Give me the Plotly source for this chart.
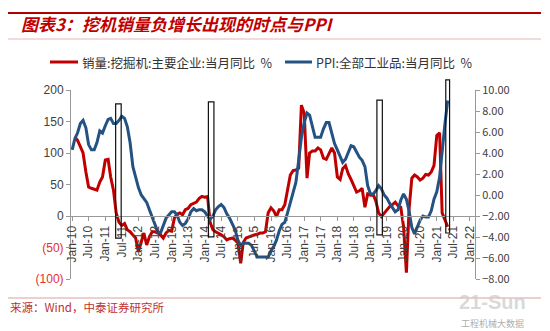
import plotly.graph_objects as go
import pandas as pd

# Monthly dates, Jan-2010 .. May-2021
months = pd.date_range("2010-01-01", "2021-05-01", freq="MS")

# Excavator sales, main enterprises, YoY % (starts Feb-2010)
sales_yoy = [None,
    125, 120, 110, 100, 70, 46, 44, 42, 41, 54, 62,
    89, 90, 62, 41, 5, -10, -15, -12, -22, -25, -30, -35,
    -57, -40, -27, -46, -33, -25, -25, -27, -30, -35, -27, -23,
    -24, -3, 3, 5, 2, 10, 12, 18, 20, 22, 28, 31,
    30, 31, -10, -22, -25, -27, -30, -33, -38, -36, -35, -38,
    -43, -75, -42, -35, -33, -32, -30, -29, -27, -27, -25, 5,
    13, 8, -1, 10, 10, 18, 40, 65, 72, 73, 76, 176,
    163, 60, 100, 103, 103, 108, 105, 92, 90, 100, 108, 100,
    62, 58, 75, 80, 67, 58, 48, 38, 40, 44, 14, 35,
    33, 34, 24, 5, -1, 5, 10, 15, 18, 22, 16, 14,
    -17, -90, 10, 60, 65, 62, 57, 60, 66, 65, 70, 80,
    128, 132, 5, -6, -17]

# PPI, all industrial products, YoY %
ppi_yoy = [
    4.3, 5.4, 5.9, 6.8, 7.1, 6.4, 4.8, 4.3, 4.3, 5.0, 6.1, 5.9,
    6.6, 7.2, 7.3, 6.8, 6.8, 7.1, 7.5, 7.3, 6.5, 5.0, 2.7, 1.7,
    0.7, 0.0, -0.3, -0.7, -1.4, -2.1, -2.9, -3.5, -3.6, -2.8, -2.2, -1.9,
    -1.6, -1.6, -1.9, -2.6, -2.9, -2.7, -2.3, -1.6, -1.3, -1.5, -1.4, -1.4,
    -1.6, -2.0, -2.3, -2.0, -1.4, -1.1, -0.9, -1.2, -1.8, -2.2, -2.7, -3.3,
    -4.3, -4.8, -4.6, -4.6, -4.6, -4.8, -5.4, -5.9, -5.9, -5.9, -5.9, -5.9,
    -5.3, -4.9, -4.3, -3.4, -2.8, -2.6, -1.7, -0.8, 0.1, 1.2, 3.3, 5.5,
    6.9, 7.8, 7.6, 6.4, 5.5, 5.5, 5.5, 6.3, 6.9, 6.9, 5.8, 4.9,
    4.3, 3.7, 3.1, 3.4, 4.1, 4.7, 4.6, 4.1, 3.6, 3.3, 2.7, 0.9,
    0.1, 0.1, 0.4, 0.9, 0.6, 0.0, -0.3, -0.8, -1.2, -1.6, -1.4, -0.5,
    0.1, -0.4, -1.5, -3.1, -3.7, -3.0, -2.4, -2.0, -2.1, -2.1, -1.5, -0.4,
    0.3, 1.7, 4.4, 6.8, 9.0]

series_names = ["销量:挖掘机:主要企业:当月同比  %", "PPI:全部工业品:当月同比  %"]

# Highlighted windows where sales growth turns negative: start, end, top/bottom (left-axis units)
box_start = ["2011-04-25", "2014-02-10", "2019-03-13", "2021-04-10"]
box_end = ["2011-06-25", "2014-04-12", "2019-05-12", "2021-05-22"]
box_top = [178, 181, 184, 216]
box_bottom = [-35, -33, -30, -27]

left_ticks = [200, 150, 100, 50, 0, -50, -100]

RED = "#C00000"
BLUE = "#245283"
GREY_TXT = "#404040"

W, H = 550, 331
L, R, T, B = 71, 75, 90, 52
PW, PH = W - L - R, H - T - B


def px(x):
    return (x - L) / PW


def py(y):
    return (H - B - y) / PH


def left_label(v):
    if v < 0:
        return f"<span style='color:#E03030'>({abs(v)})</span>"
    return str(v)


fig = go.Figure()
fig.add_trace(go.Scatter(x=months, y=sales_yoy, name=series_names[0],
                         mode="lines", line=dict(color=RED, width=3), yaxis="y"))
fig.add_trace(go.Scatter(x=months, y=ppi_yoy, name=series_names[1],
                         mode="lines", line=dict(color=BLUE, width=3), yaxis="y2"))

shapes = []
for s, e, top, bot in zip(box_start, box_end, box_top, box_bottom):
    shapes.append(dict(type="rect", xref="x", yref="paper", x0=s, x1=e,
                       y0=(bot + 100) / 300, y1=(top + 100) / 300,
                       line=dict(color="#111111", width=1.2), fillcolor="rgba(0,0,0,0)",
                       layer="above"))

# header / footer rules
shapes.append(dict(type="line", xref="paper", yref="paper", x0=px(8), x1=px(541),
                   y0=py(13), y1=py(13), line=dict(color="#B00000", width=2)))
shapes.append(dict(type="line", xref="paper", yref="paper", x0=px(8), x1=px(541),
                   y0=py(39), y1=py(39), line=dict(color="#E8B4B4", width=1)))
shapes.append(dict(type="line", xref="paper", yref="paper", x0=px(8), x1=px(541),
                   y0=py(298), y1=py(298), line=dict(color="#D9A0A0", width=1)))

# legend keys drawn in one row above the plot
legend_keys = [(50, 78, 80, RED), (285, 312, 314, BLUE)]
annotations = []
for (k0, k1, tx, col), name in zip(legend_keys, series_names):
    shapes.append(dict(type="line", xref="paper", yref="paper", x0=px(k0), x1=px(k1),
                       y0=py(62), y1=py(62), line=dict(color=col, width=3)))
    annotations.append(dict(text=name, xref="paper", yref="paper", x=px(tx), y=py(62),
                            xanchor="left", yanchor="middle", showarrow=False,
                            font=dict(family="Noto Sans CJK SC", size=12.5, color="#333333")))

annotations += [
    dict(text="<b><i>图表3：挖机销量负增长出现的时点与PPI</i></b>", xref="paper", yref="paper",
         x=px(19), y=py(24), xanchor="left", yanchor="middle", showarrow=False,
         font=dict(family="Noto Sans CJK SC", size=17, color=RED)),
    dict(text="来源：Wind，中泰证券研究所", xref="paper", yref="paper",
         x=px(8), y=py(307), xanchor="left", yanchor="middle", showarrow=False,
         font=dict(family="Noto Sans CJK SC", size=11.5, color="#C03030")),
    dict(text="<b>21-Sun</b>", xref="paper", yref="paper",
         x=px(492), y=py(302), xanchor="center", yanchor="middle", showarrow=False,
         font=dict(family="Liberation Sans", size=20, color="rgba(205,205,205,0.75)")),
    dict(text="工程机械大数据", xref="paper", yref="paper",
         x=px(492), y=py(323), xanchor="center", yanchor="middle", showarrow=False,
         font=dict(family="Noto Sans CJK SC", size=9, color="rgba(150,150,150,0.8)")),
]

fig.update_layout(
    width=W, height=H,
    margin=dict(l=L, r=R, t=T, b=B, autoexpand=False),
    paper_bgcolor="white", plot_bgcolor="white",
    font=dict(family="Liberation Sans, Noto Sans CJK SC", size=12, color=GREY_TXT),
    showlegend=False,
    xaxis=dict(type="date", range=["2009-12-19", "2022-02-26"], tick0="2010-01-01", dtick="M6",
               tickformat="%b-%y", tickangle=-90, anchor="free", position=1 / 3,
               showline=True, linecolor="#999999", linewidth=1, ticks="outside", ticklen=4,
               tickcolor="#999999", showgrid=False, zeroline=False,
               tickfont=dict(family="Liberation Sans", size=12, color=GREY_TXT)),
    yaxis=dict(range=[-100, 200], tickvals=left_ticks, ticktext=[left_label(v) for v in left_ticks],
               showline=True, linecolor="#999999", ticks="outside", ticklen=4, tickcolor="#999999",
               showgrid=False, zeroline=False,
               tickfont=dict(family="Liberation Sans", size=12, color=GREY_TXT)),
    yaxis2=dict(range=[-8, 10], dtick=2, tick0=0, tickformat=".2f", overlaying="y", side="right",
                showline=True, linecolor="#999999", ticks="outside", ticklen=4, tickcolor="#999999",
                showgrid=False, zeroline=False,
                tickfont=dict(family="Noto Sans CJK SC", size=11, color=GREY_TXT)),
    shapes=shapes,
    annotations=annotations,
)

fig.write_html("out.html")
